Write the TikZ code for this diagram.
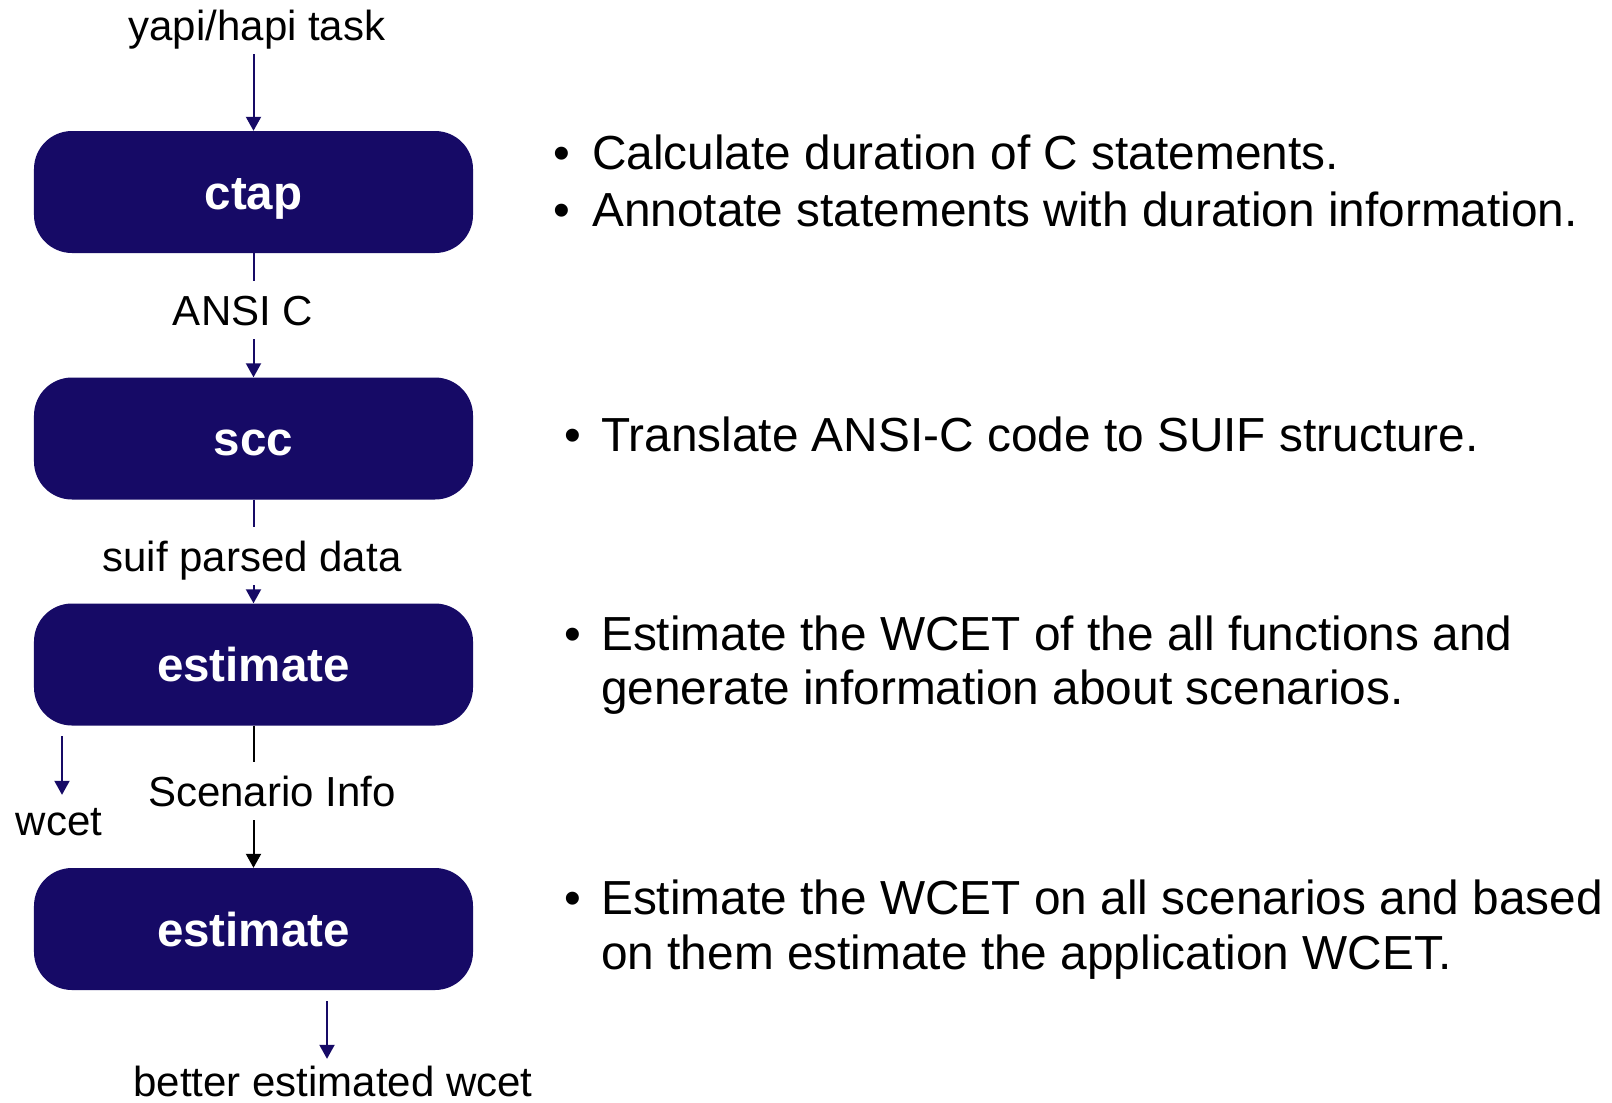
\documentclass[tikz,border=0pt]{standalone}
\usepackage{fontspec}
\setmainfont{Liberation Sans}
\usetikzlibrary{arrows.meta}

\definecolor{navy}{RGB}{22,10,102}
\newcommand{\lblfont}{\fontsize{42bp}{50bp}\selectfont}
\newcommand{\boxfont}{\fontsize{47.5bp}{56bp}\selectfont\bfseries}
\newcommand{\bodyfont}{\fontsize{47.8bp}{56bp}\selectfont}

\tikzset{
  stage/.style={fill=navy, rounded corners=38bp, minimum width=439bp,
    minimum height=122bp, inner sep=0pt, text=white, font=\boxfont,
    text height=34bp, text depth=0bp},
  lbl/.style={font=\lblfont, inner xsep=0pt, inner ysep=14bp,
    text height=30bp, text depth=0bp, anchor=base},
  flow/.style={draw=navy, line width=2bp},
  flowarr/.style={flow, -{Triangle[length=14bp,width=15bp]}},
  blackflow/.style={draw=black, line width=2bp},
  blackarr/.style={blackflow, -{Triangle[length=14bp,width=15bp]}},
  bul/.style={font=\bodyfont, anchor=base, inner sep=0pt},
  item/.style={font=\bodyfont, anchor=base west, inner sep=0pt},
}

\begin{document}
\begin{tikzpicture}[x=1bp,y=-1bp]
  \useasboundingbox[fill=white] (0,0) rectangle (1612,1102);

  % processing stages
  \node[stage] (ctap) at (253.5,192)   {ctap};
  \node[stage] (scc)  at (253.5,438.5) {scc};
  \node[stage] (est1) at (253.5,664.5) {estimate};
  \node[stage] (est2) at (253.5,929)   {estimate};

  % data labels
  \node[lbl] (yapi)   at (257,40)   {yapi/hapi task};
  \node[lbl] (ansi)   at (243,325)  {ANSI C};
  \node[lbl] (suif)   at (252,571)  {suif parsed data};
  \node[lbl] (scen)   at (272,806)  {Scenario Info};
  \node[lbl, inner ysep=10bp] (wcet)   at (59,835)   {wcet};
  \node[lbl, inner ysep=7bp]  (better) at (333,1096) {better estimated wcet};

  % input
  \draw[flowarr] (ctap.north |- yapi.south) -- (ctap.north);
  % ctap -> scc
  \draw[flow] (ctap.south) -- (ctap.south |- ansi.north);
  \draw[flowarr] (scc.north |- ansi.south) -- (scc.north);
  % scc -> estimate
  \draw[flow] (scc.south) -- (scc.south |- suif.north);
  \draw[flowarr] (est1.north |- suif.south) -- (est1.north);
  % estimate -> estimate
  \draw[blackflow] (est1.south) -- (est1.south |- scen.north);
  \draw[blackarr] (est2.north |- scen.south) -- (est2.north);
  % outputs
  \coordinate (wcetfrom) at (62,736);
  \draw[flowarr] (wcetfrom) -- (wcetfrom |- wcet.north);
  \coordinate (betterfrom) at (327,1001);
  \draw[flowarr] (betterfrom) -- (betterfrom |- better.north);

  % descriptions
  \node[bul]  (d1b) at (562,169) {•};
  \node[item] (d1)  at (592,169) {Calculate duration of C statements.};
  \node[bul]  (d2b) at (562,226) {•};
  \node[item] (d2)  at (592,226) {Annotate statements with duration information.};

  \node[bul]  (d3b) at (572.5,451) {•};
  \node[item] (d3)  at (601,451) {Translate ANSI-C code to SUIF structure.};

  \node[bul]  (d4b) at (572.5,650) {•};
  \node[item] (d4)  at (601,650) {Estimate the WCET of the all functions and};
  \node[item] (d4c) at (601,704) {generate information about scenarios.};

  \node[bul]  (d5b) at (572.5,914) {•};
  \node[item] (d5)  at (601,914) {Estimate the WCET on all scenarios and based};
  \node[item] (d5c) at (601,969) {on them estimate the application WCET.};
\end{tikzpicture}
\end{document}
